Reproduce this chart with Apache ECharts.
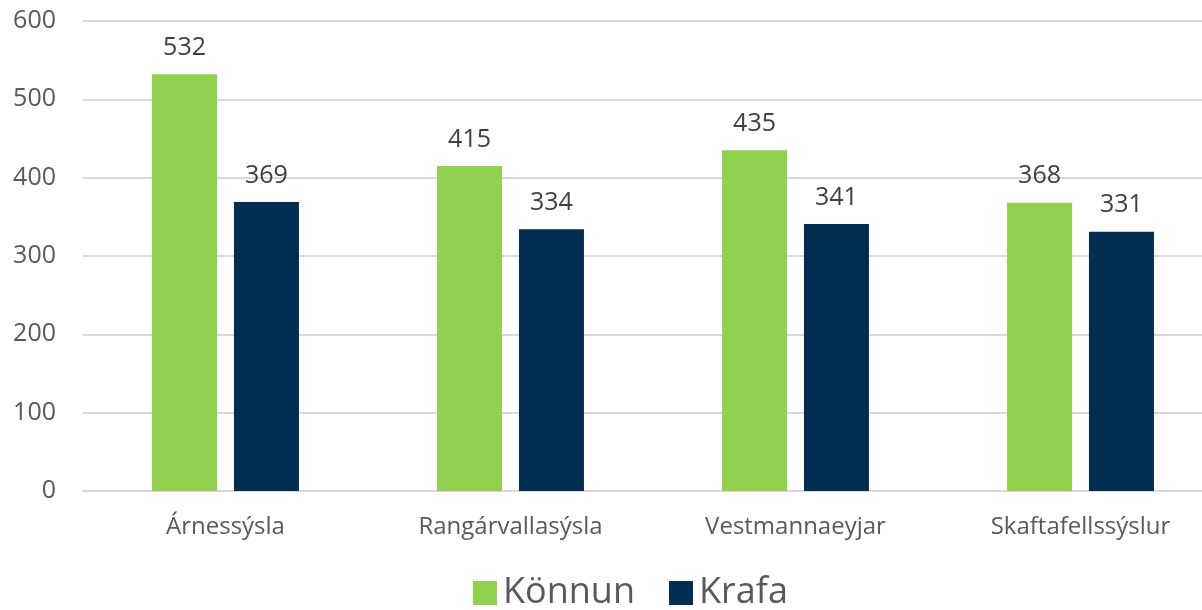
<!DOCTYPE html>
<html>
<head>
<meta charset="utf-8">
<script src="https://cdn.jsdelivr.net/npm/echarts@6/dist/echarts.min.js"></script>
<style>
  html, body { margin: 0; padding: 0; background: #fff; overflow: hidden; }
  /* the plot runs past the right edge in the original, so the canvas is wider than the window */
  #chart { width: 1240px; height: 610px; }
</style>
</head>
<body>
<div id="chart"></div>
<script>
var categories = ['Árnessýsla', 'Rangárvallasýsla', 'Vestmannaeyjar', 'Skaftafellssýslur'];
var konnun = [532, 415, 435, 368];
var krafa = [369, 334, 341, 331];
var seriesNames = ['Könnun', 'Krafa'];

var chart = echarts.init(document.getElementById('chart'));
var fontFam = '"Open Sans", "Noto Sans", sans-serif';

var option = {
  animation: false,
  textStyle: { fontFamily: fontFam },
  grid: { left: 83, top: 21, width: 1140, height: 470 },
  legend: {
    data: seriesNames,
    left: 468,
    top: 570,
    itemWidth: 24,
    itemHeight: 24,
    itemGap: 34,
    icon: 'rect',
    textStyle: { fontSize: 36, color: '#595959', fontFamily: fontFam, padding: [0, 0, 0, 1] }
  },
  xAxis: {
    type: 'category',
    data: categories,
    axisLine: { lineStyle: { color: '#d9d9d9', width: 2 } },
    axisTick: { show: false },
    axisLabel: { fontSize: 24, color: '#595959', margin: 24 }
  },
  yAxis: {
    type: 'value',
    min: 0,
    max: 600,
    interval: 100,
    axisLine: { show: false },
    axisTick: { show: false },
    splitLine: { lineStyle: { color: '#d9d9d9', width: 2 } },
    axisLabel: { fontSize: 25, color: '#595959', margin: 27 }
  },
  series: [
    {
      name: seriesNames[0],
      type: 'bar',
      data: konnun,
      barWidth: 65,
      barGap: '26%',
      itemStyle: { color: '#92d050' },
      label: { show: true, position: 'top', distance: 14, fontSize: 25, color: '#404040' }
    },
    {
      name: seriesNames[1],
      type: 'bar',
      data: krafa,
      barWidth: 65,
      itemStyle: { color: '#002d50' },
      label: { show: true, position: 'top', distance: 14, fontSize: 25, color: '#404040' }
    }
  ]
};

chart.setOption(option);
window.addEventListener('resize', function () { chart.resize(); });
</script>
</body>
</html>
